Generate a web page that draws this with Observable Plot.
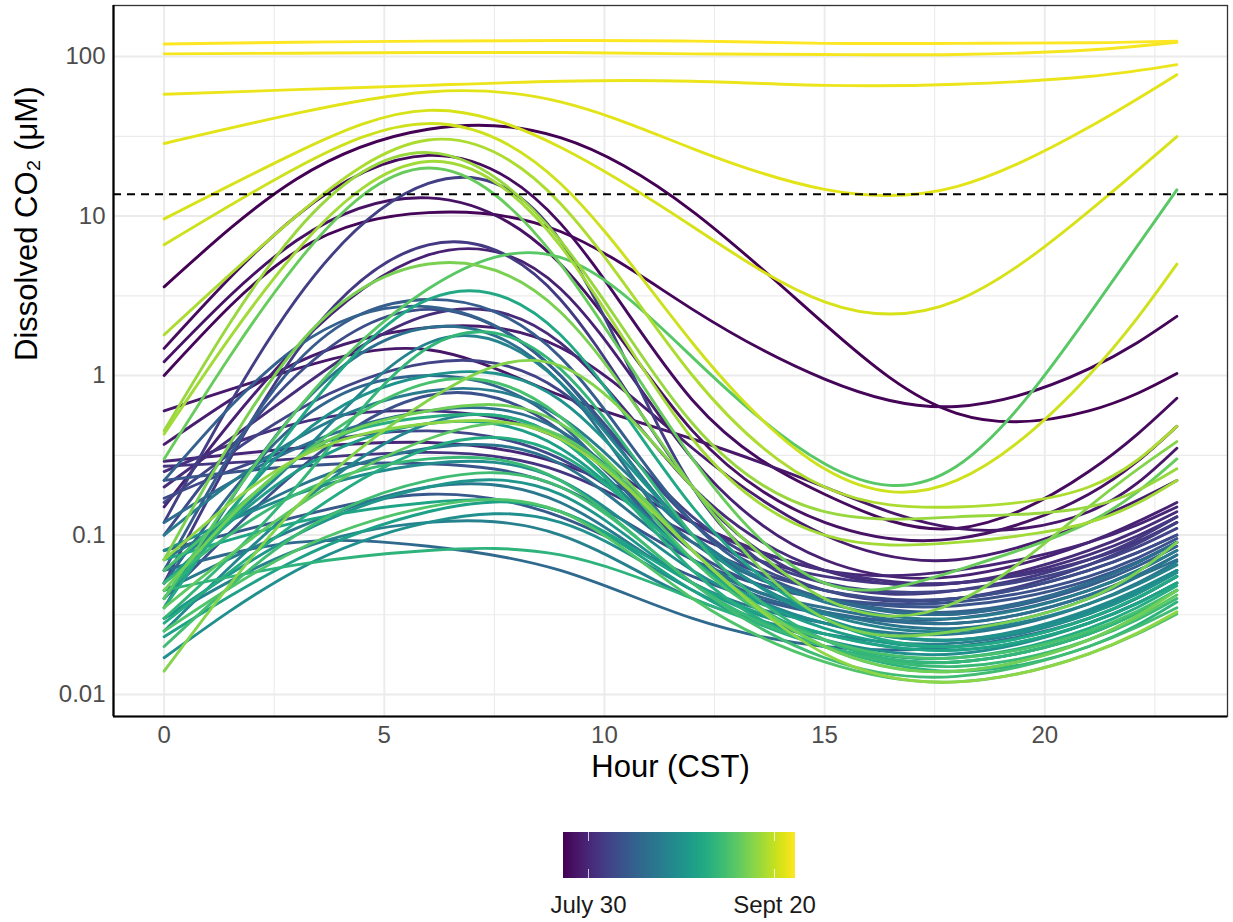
<!DOCTYPE html>
<html><head><meta charset="utf-8">
<script src="https://cdn.jsdelivr.net/npm/d3@7"></script>
<script src="https://cdn.jsdelivr.net/npm/@observablehq/plot@0.6"></script>
<style>
body{margin:0;background:#fff;font-family:"Liberation Sans",Arial,sans-serif;}
#legend{margin-left:523px;margin-top:32px;}
</style></head><body>
<div id="chart"></div><div id="legend"></div>
<script>
// Hour of day (CST) at which each smoothed curve was read
const hours = [0, 3, 6, 9, 12, 15, 18, 21, 23];
// Date of each daily curve (MM-DD)
const dates = [
  "07-23","07-24","07-25","07-26","07-27","07-28","07-29","07-30","07-31","08-01",
  "08-02","08-03","08-04","08-05","08-06","08-07","08-08","08-09","08-10",
  "08-11","08-12","08-13","08-14","08-15","08-16","08-17","08-18","08-19","08-20",
  "08-21","08-22","08-23","08-24","08-25","08-26","08-28","08-29","08-30","08-31","09-01",
  "09-02","09-03","09-04","09-05","09-06","09-07","09-08","09-09","09-10","09-11","09-12",
  "09-13","09-14","09-15","09-16","09-17","09-18","09-21","09-22","09-23","09-24","09-25","09-26"
];
// Dissolved CO2 (µM) for each date at the hours above
const co2 = [
  [3.6, 17, 35, 31, 10.7, 2.1, 0.58, 0.6, 1.03],
  [1.0, 6, 10.5, 8, 2.6, 0.95, 0.64, 1.1, 2.35],
  [1.48, 10, 24, 9, 0.7, 0.18, 0.11, 0.25, 0.72],
  [1.22, 7, 13, 5, 0.45, 0.12, 0.095, 0.18, 0.48],
  [0.6, 1.1, 1.45, 0.75, 0.4, 0.2, 0.11, 0.14, 0.35],
  [0.37, 1.2, 2.0, 1.5, 0.35, 0.1, 0.07, 0.12, 0.22],
  [0.15, 1.5, 5.7, 3.5, 0.3, 0.07, 0.055, 0.09, 0.16],
  [0.29, 0.35, 0.38, 0.28, 0.12, 0.06, 0.06, 0.09, 0.15],
  [0.2, 0.8, 2.4, 1.6, 0.2, 0.06, 0.05, 0.08, 0.14],
  [0.25, 0.5, 0.6, 0.4, 0.12, 0.06, 0.05, 0.075, 0.13],
  [0.27, 0.3, 0.33, 0.25, 0.1, 0.055, 0.05, 0.07, 0.12],
  [0.05, 1.4, 6.6, 3.0, 0.2, 0.05, 0.045, 0.07, 0.13],
  [0.12, 3, 16, 7, 0.2, 0.045, 0.04, 0.065, 0.12],
  [0.16, 0.6, 1.2, 0.8, 0.13, 0.05, 0.045, 0.065, 0.11],
  [0.17, 0.35, 0.45, 0.3, 0.09, 0.045, 0.04, 0.06, 0.1],
  [0.1, 1.0, 2.6, 1.0, 0.12, 0.045, 0.04, 0.06, 0.1],
  [0.04, 0.25, 0.75, 0.45, 0.08, 0.04, 0.038, 0.055, 0.095],
  [0.22, 0.27, 0.28, 0.2, 0.07, 0.04, 0.036, 0.052, 0.09],
  [0.08, 0.13, 0.18, 0.13, 0.055, 0.032, 0.03, 0.045, 0.08],
  [0.06, 1.2, 3.0, 1.3, 0.12, 0.04, 0.032, 0.048, 0.085],
  [0.22, 1.5, 2.7, 1.0, 0.1, 0.04, 0.033, 0.05, 0.09],
  [0.05, 0.5, 1.0, 0.5, 0.07, 0.033, 0.028, 0.042, 0.075],
  [0.06, 0.09, 0.085, 0.06, 0.03, 0.02, 0.02, 0.03, 0.055],
  [0.12, 0.35, 0.6, 0.45, 0.09, 0.04, 0.032, 0.05, 0.09],
  [0.035, 0.6, 2.0, 0.9, 0.08, 0.035, 0.028, 0.042, 0.07],
  [0.07, 0.2, 0.35, 0.28, 0.07, 0.033, 0.026, 0.04, 0.075],
  [0.045, 0.11, 0.2, 0.16, 0.05, 0.028, 0.024, 0.037, 0.068],
  [0.1, 0.4, 0.8, 0.55, 0.1, 0.038, 0.03, 0.045, 0.08],
  [0.03, 0.08, 0.12, 0.1, 0.04, 0.024, 0.021, 0.032, 0.06],
  [0.06, 0.3, 1.6, 0.9, 0.1, 0.032, 0.025, 0.037, 0.065],
  [0.025, 0.15, 0.5, 0.4, 0.07, 0.028, 0.022, 0.033, 0.06],
  [0.08, 0.18, 0.28, 0.22, 0.06, 0.028, 0.022, 0.034, 0.06],
  [0.017, 0.06, 0.12, 0.12, 0.045, 0.022, 0.018, 0.028, 0.05],
  [0.04, 0.4, 1.0, 0.7, 0.1, 0.03, 0.022, 0.032, 0.058],
  [0.03, 0.1, 0.2, 0.18, 0.05, 0.024, 0.019, 0.028, 0.05],
  [0.05, 0.25, 0.5, 0.35, 0.07, 0.026, 0.02, 0.03, 0.055],
  [0.023, 0.07, 0.14, 0.14, 0.045, 0.02, 0.016, 0.024, 0.045],
  [0.07, 0.12, 0.16, 0.14, 0.05, 0.024, 0.019, 0.028, 0.05],
  [0.035, 0.5, 3.0, 1.8, 0.15, 0.03, 0.02, 0.03, 0.055],
  [0.028, 0.12, 0.35, 0.32, 0.07, 0.022, 0.017, 0.026, 0.048],
  [0.04, 0.3, 0.55, 0.4, 0.06, 0.02, 0.016, 0.024, 0.045],
  [0.045, 0.065, 0.08, 0.075, 0.04, 0.02, 0.014, 0.02, 0.038],
  [0.03, 0.2, 1.5, 1.1, 0.1, 0.022, 0.016, 0.024, 0.045],
  [0.05, 0.18, 0.3, 0.22, 0.05, 0.02, 0.015, 0.022, 0.04],
  [0.02, 0.1, 0.22, 0.2, 0.05, 0.017, 0.013, 0.02, 0.035],
  [0.06, 0.3, 0.9, 0.55, 0.07, 0.022, 0.017, 0.025, 0.045],
  [0.025, 0.08, 0.15, 0.14, 0.04, 0.016, 0.012, 0.018, 0.032],
  [0.04, 0.6, 3.5, 5.5, 1.3, 0.28, 0.27, 2.4, 14.6],
  [0.035, 0.15, 0.4, 0.42, 0.08, 0.02, 0.014, 0.022, 0.042],
  [0.3, 5, 20, 5, 0.3, 0.05, 0.06, 0.12, 0.3],
  [0.045, 0.3, 0.6, 0.5, 0.08, 0.02, 0.014, 0.022, 0.045],
  [0.07, 1.5, 5, 2.5, 0.2, 0.03, 0.025, 0.04, 0.09],
  [0.014, 0.15, 0.7, 1.15, 0.2, 0.04, 0.038, 0.15, 0.385],
  [0.07, 0.3, 0.5, 0.4, 0.08, 0.018, 0.012, 0.018, 0.033],
  [0.45, 8, 25, 7, 0.5, 0.14, 0.13, 0.15, 0.26],
  [0.43, 6, 22, 6.5, 0.4, 0.1, 0.09, 0.12, 0.22],
  [1.8, 10, 30, 12, 1.0, 0.2, 0.15, 0.2, 0.48],
  [6.6, 20, 38, 16, 1.6, 0.26, 0.22, 1.0, 5.0],
  [9.6, 25, 46, 27, 8.6, 2.9, 2.95, 10.7, 31.5],
  [28.5, 44, 60, 52, 26.5, 14.7, 15.3, 36, 77],
  [58, 62, 66, 70, 70, 66, 67, 75, 89],
  [104, 105, 106, 106, 104, 103, 103, 110, 123],
  [120, 123, 125, 126, 125, 121, 121, 122, 125]
];
const threshold = 13.7;
const yTicks = [0.01, 0.1, 1, 10, 100];
const yMinor = [0.0316, 0.316, 3.16, 31.6];
const xTicks = [0, 5, 10, 15, 20];
const xMinor = [2.5, 7.5, 12.5, 17.5, 22.5];
const legendDates = ["07-30", "09-20"];
const legendLabels = ["July 30", "Sept 20"];

const dayOf = s => { const [m, d] = s.split("-").map(Number); return (Date.UTC(2021, m - 1, d) - Date.UTC(2021, 6, 23)) / 864e5; };
const rows = co2.flatMap((vals, i) => vals.map((v, j) => ({id: i, day: dayOf(dates[i]), hour: hours[j], co2: v})));
const dayDomain = [dayOf(dates[0]), dayOf(dates[dates.length - 1])];
const xDomain = [-1.15, 24.15];
const yDomain = [0.00728, 209];
const font = '"Liberation Sans", Arial, sans-serif';

const chart = Plot.plot({
  width: 1233, height: 800,
  marginLeft: 113, marginRight: 6, marginTop: 5, marginBottom: 84,
  style: {fontFamily: font, fontSize: "24px", color: "#4d4d4d", background: "white"},
  x: {domain: xDomain, ticks: xTicks, tickSize: 0, tickPadding: 9, label: null},
  y: {type: "log", domain: yDomain, ticks: yTicks, tickFormat: d => String(d), tickSize: 0, tickPadding: 8, label: null},
  color: {type: "linear", scheme: "viridis", domain: dayDomain},
  marks: [
    Plot.ruleY(yMinor, {stroke: "#ebebeb", strokeWidth: 1.1}),
    Plot.ruleX(xMinor, {stroke: "#ebebeb", strokeWidth: 1.1}),
    Plot.ruleY(yTicks, {stroke: "#ebebeb", strokeWidth: 1.9}),
    Plot.ruleX(xTicks, {stroke: "#ebebeb", strokeWidth: 1.9}),
    Plot.line(rows, {x: "hour", y: "co2", z: "id", stroke: "day", strokeWidth: 2.9, curve: "natural"}),
    Plot.ruleY([threshold], {stroke: "black", strokeWidth: 2.2, strokeDasharray: "8,6"}),
    Plot.frame({stroke: "#333", strokeWidth: 1.3}),
    Plot.ruleX([xDomain[0]], {stroke: "black", strokeWidth: 2.2}),
    Plot.ruleY([yDomain[0]], {stroke: "black", strokeWidth: 2.2}),
    Plot.text(["Hour (CST)"], {frameAnchor: "bottom", dy: 60, fontSize: 31, fill: "black"}),
    Plot.text(["Dissolved CO₂ (μM)"], {frameAnchor: "left", dx: -86, rotate: -90, fontSize: 31, fill: "black"})
  ]
});
document.getElementById("chart").appendChild(chart);

const legendTickDays = legendDates.map(dayOf);
const leg = Plot.legend({
  color: {type: "linear", scheme: "viridis", domain: dayDomain},
  width: 312, height: 86, marginTop: 0, marginBottom: 40, marginLeft: 40, marginRight: 40,
  ticks: legendTickDays,
  tickFormat: d => legendLabels[legendTickDays.indexOf(d)],
  tickSize: 15, label: null,
  style: {fontFamily: font, fontSize: "24px", color: "#1a1a1a", background: "white"}
});
leg.querySelectorAll(".tick line").forEach(l => {
  l.setAttribute("y2", 0);
  l.setAttribute("stroke", "white");
  l.setAttribute("stroke-opacity", 0.75);
  l.setAttribute("stroke-dasharray", "9,28,9");
});
document.getElementById("legend").appendChild(leg);
</script>
</body></html>
